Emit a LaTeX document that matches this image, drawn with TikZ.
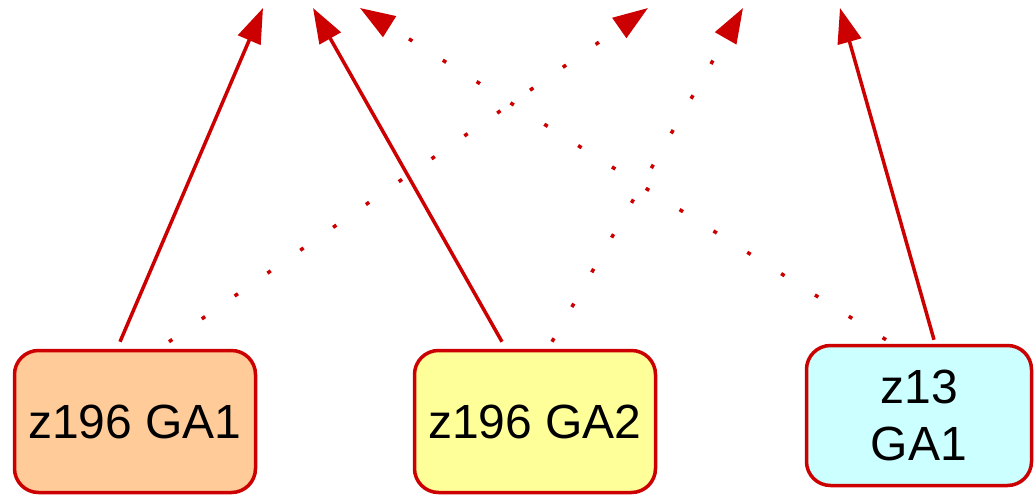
\documentclass[tikz,border=0pt]{standalone}
\usepackage{fontspec}
\setmainfont{Liberation Sans}
\usetikzlibrary{arrows.meta}
\definecolor{edgered}{HTML}{CC0000}
\definecolor{peach}{HTML}{FFCC99}
\definecolor{paleyellow}{HTML}{FFFF99}
\definecolor{palecyan}{HTML}{CCFFFF}
\begin{document}
\begin{tikzpicture}[x=1pt,y=-1pt,
  box/.style={draw=edgered, line width=3.5pt, rounded corners=24pt, align=center,
    font=\fontsize{48}{57}\selectfont, inner sep=0pt},
  link/.style={draw=edgered, line width=3.5pt, -{Triangle[length=35pt,width=24pt]}},
  dotlink/.style={link, dash pattern=on 4pt off 36pt}]
\useasboundingbox[fill=white] (0,0) rectangle (1036,495);
\node[box, fill=peach, minimum width=241pt, minimum height=142pt] (a) at (135,421.5) {\raisebox{-3pt}{z196 GA1}};
\node[box, fill=paleyellow, minimum width=241pt, minimum height=142pt] (b) at (535,421.5) {\raisebox{-3pt}{z196 GA2}};
\node[box, fill=palecyan, minimum width=225pt, minimum height=140pt] (c) at (919,415.5) {z13\\GA1};
\coordinate (t1) at (263,8);
\coordinate (t2) at (313,8);
\coordinate (t3) at (360,8);
\coordinate (t4) at (648,8);
\coordinate (t5) at (743,8);
\coordinate (t6) at (840,8);
\draw[link] ([xshift=-15pt,yshift=7pt]a.north) -- (t1);
\draw[dotlink] ([xshift=34pt,yshift=7pt]a.north) -- (t4);
\draw[link] ([xshift=-33pt,yshift=7pt]b.north) -- (t2);
\draw[dotlink] ([xshift=17pt,yshift=7pt]b.north) -- (t5);
\draw[dotlink] ([xshift=-33pt,yshift=4pt]c.north) -- (t3);
\draw[link] ([xshift=15pt,yshift=4pt]c.north) -- (t6);
\end{tikzpicture}
\end{document}
